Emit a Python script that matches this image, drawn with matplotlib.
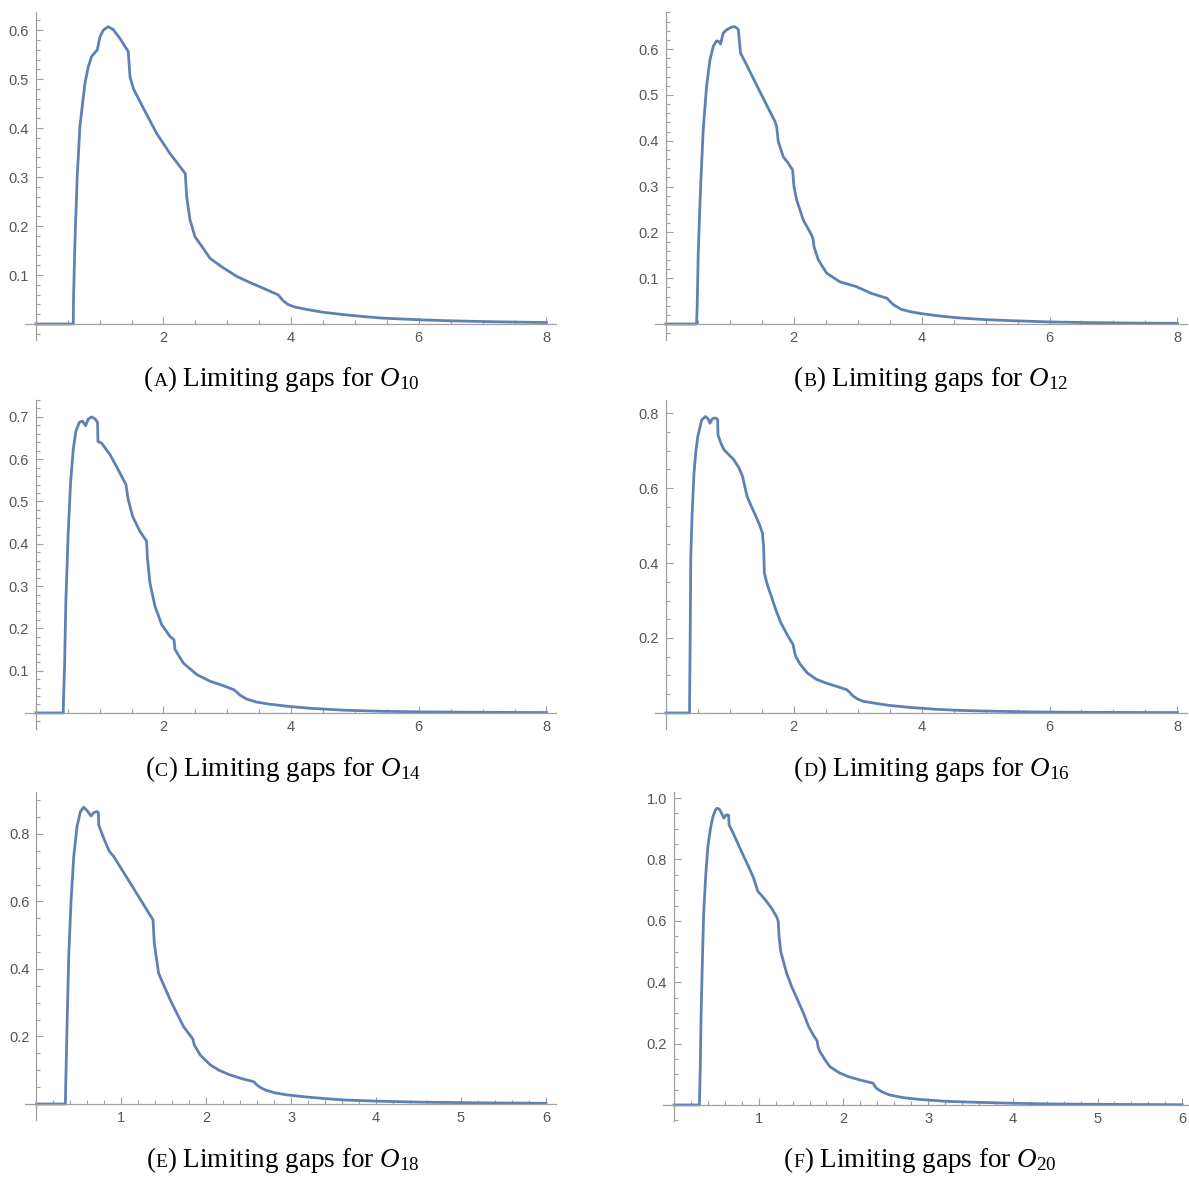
import numpy as np
import matplotlib.pyplot as plt
from matplotlib.ticker import MultipleLocator, FormatStrFormatter

plt.rcParams['mathtext.fontset'] = 'custom'
plt.rcParams['mathtext.rm'] = 'Liberation Serif'
plt.rcParams['mathtext.it'] = 'Liberation Serif:italic'

xa = [0, 0.586, 0.59, 0.612, 0.648, 0.69, 0.732, 0.769, 0.821, 0.873, 0.936, 0.962, 1.004, 1.056, 1.135,
      1.213, 1.318, 1.448, 1.475, 1.527, 1.631, 1.893, 2.102, 2.342, 2.363, 2.416, 2.494, 2.625, 2.73,
      2.91, 3.15, 3.35, 3.51, 3.65, 3.79, 3.82, 3.87, 3.95, 4.05, 4.23, 4.5, 4.83, 5.15, 5.43, 6.03,
      6.5, 7.2, 8.0]
ya = [0, 0, 0.05, 0.165, 0.301, 0.403, 0.45, 0.491, 0.525, 0.546, 0.556, 0.559, 0.586, 0.600, 0.607,
      0.601, 0.583, 0.556, 0.505, 0.481, 0.454, 0.389, 0.348, 0.307, 0.26, 0.212, 0.178, 0.154, 0.134,
      0.117, 0.097, 0.085, 0.076, 0.068, 0.060, 0.056, 0.048, 0.040, 0.035, 0.030, 0.024, 0.019, 0.015, 0.012, 0.0085,
      0.0065, 0.0045, 0.003]

xb = [0, 0.48, 0.49, 0.506, 0.543, 0.584, 0.636, 0.689, 0.741, 0.793, 0.835, 0.855, 0.897, 0.949, 1.028,
      1.08, 1.132, 1.168, 1.236, 1.471, 1.706, 1.732, 1.758, 1.836, 1.914, 1.982, 2.003, 2.045, 2.149,
      2.28, 2.306, 2.316, 2.384, 2.514, 2.723, 2.97, 3.21, 3.46, 3.5, 3.56, 3.68, 3.82, 3.98, 4.25,
      4.56, 5.0, 5.45, 6.0, 6.63, 7.3, 8.0]
yb = [0, 0, 0.04, 0.154, 0.300, 0.424, 0.518, 0.576, 0.606, 0.618, 0.616, 0.611, 0.635, 0.642, 0.648,
      0.649, 0.643, 0.591, 0.573, 0.507, 0.442, 0.431, 0.398, 0.365, 0.351, 0.336, 0.300, 0.271, 0.227,
      0.194, 0.183, 0.169, 0.140, 0.111, 0.092, 0.082, 0.067, 0.056, 0.050, 0.042, 0.032, 0.027, 0.023, 0.018,
      0.0135, 0.0095, 0.007, 0.0045, 0.003, 0.002, 0.0015]

xc = [0, 0.429, 0.435, 0.45, 0.471, 0.507, 0.544, 0.586, 0.627, 0.68, 0.732, 0.779, 0.821, 0.873, 0.931,
      0.967, 0.973, 1.03, 1.161, 1.291, 1.412, 1.448, 1.516, 1.631, 1.736, 1.746, 1.788, 1.867, 1.971,
      2.102, 2.165, 2.18, 2.311, 2.52, 2.729, 2.91, 3.1, 3.15, 3.2, 3.3, 3.45, 3.65, 3.93, 4.3, 4.83,
      5.4, 6.03, 7.0, 8.0]
yc = [0, 0, 0.04, 0.11, 0.268, 0.426, 0.544, 0.623, 0.666, 0.687, 0.690, 0.679, 0.695, 0.700, 0.695,
      0.687, 0.642, 0.638, 0.611, 0.575, 0.540, 0.504, 0.465, 0.429, 0.406, 0.370, 0.307, 0.252, 0.209,
      0.181, 0.173, 0.150, 0.118, 0.091, 0.075, 0.066, 0.055, 0.049, 0.042, 0.033, 0.026, 0.021, 0.016, 0.011, 0.0065,
      0.004, 0.0025, 0.0015, 0.001]

xd = [0, 0.37, 0.38, 0.39, 0.41, 0.44, 0.47, 0.50, 0.56, 0.62, 0.66, 0.69, 0.72, 0.75, 0.79, 0.81,
      0.815, 0.86, 0.91, 0.98, 1.06, 1.14, 1.20, 1.24, 1.27, 1.34, 1.41, 1.47, 1.51, 1.53, 1.54, 1.59,
      1.65, 1.72, 1.80, 1.90, 1.99, 2.01, 2.03, 2.10, 2.21, 2.35, 2.50, 2.65, 2.83, 2.88, 2.92, 3.0,
      3.09, 3.3, 3.5, 3.8, 4.2, 4.56, 5.0, 5.74, 6.5, 8.0]
yd = [0, 0, 0.20, 0.418, 0.53, 0.64, 0.70, 0.738, 0.782, 0.791, 0.785, 0.773, 0.783, 0.787, 0.786, 0.782,
      0.742, 0.72, 0.702, 0.69, 0.676, 0.655, 0.631, 0.60, 0.578, 0.55, 0.524, 0.50, 0.48, 0.44, 0.373, 0.34,
      0.311, 0.275, 0.24, 0.208, 0.182, 0.165, 0.151, 0.13, 0.107, 0.09, 0.08, 0.072, 0.062, 0.054, 0.046, 0.037,
      0.031, 0.025, 0.02, 0.015, 0.01, 0.007, 0.005, 0.0027, 0.0017, 0.001]

xe = [0, 0.341, 0.345, 0.361, 0.38, 0.408, 0.439, 0.478, 0.518, 0.557, 0.596, 0.643, 0.675, 0.714, 0.729,
      0.733, 0.792, 0.859, 0.91, 1.106, 1.263, 1.349, 1.373, 1.388, 1.439, 1.576, 1.733, 1.843, 1.859,
      1.929, 2.047, 2.15, 2.27, 2.42, 2.56, 2.59, 2.63, 2.70, 2.81, 2.95, 3.17, 3.4, 3.62, 4.0, 4.52,
      5.2, 6.0]
ye = [0, 0, 0.06, 0.239, 0.437, 0.604, 0.733, 0.822, 0.866, 0.879, 0.869, 0.853, 0.863, 0.866, 0.863,
      0.827, 0.787, 0.748, 0.733, 0.654, 0.59, 0.555, 0.545, 0.476, 0.387, 0.308, 0.229, 0.192, 0.175,
      0.145, 0.116, 0.10, 0.087, 0.075, 0.066, 0.058, 0.05, 0.041, 0.033, 0.027, 0.021, 0.016, 0.012, 0.0085, 0.0055,
      0.0035, 0.002]

xf = [0, 0.30, 0.31, 0.32, 0.335, 0.35, 0.375, 0.40, 0.43, 0.46, 0.49, 0.51, 0.53, 0.55, 0.58, 0.59,
      0.61, 0.63, 0.645, 0.65, 0.70, 0.77, 0.83, 0.88, 0.94, 0.99, 1.03, 1.08, 1.15, 1.21, 1.23, 1.24,
      1.26, 1.33, 1.39, 1.46, 1.53, 1.59, 1.65, 1.69, 1.70, 1.72, 1.78, 1.84, 1.95, 2.06, 2.2, 2.35,
      2.37, 2.39, 2.46, 2.54, 2.7, 2.9, 3.2, 3.56, 4.0, 4.44, 5.0, 6.0]
yf = [0, 0, 0.12, 0.299, 0.47, 0.625, 0.75, 0.842, 0.90, 0.94, 0.962, 0.967, 0.965, 0.957, 0.94, 0.935,
      0.944, 0.946, 0.944, 0.913, 0.885, 0.842, 0.806, 0.777, 0.739, 0.696, 0.684, 0.668, 0.642, 0.614, 0.60, 0.55,
      0.50, 0.429, 0.385, 0.342, 0.298, 0.255, 0.225, 0.209, 0.19, 0.175, 0.148, 0.125, 0.105, 0.092, 0.081, 0.071,
      0.062, 0.054, 0.042, 0.033, 0.024, 0.018, 0.012, 0.0087, 0.0055, 0.0033, 0.002, 0.0008]

letters = ['A', 'B', 'C', 'D', 'E', 'F']
orders = ['10', '12', '14', '16', '18', '20']

W, H = 1189, 1177
fig = plt.figure(figsize=(W / 100, H / 100), dpi=100)
renderer = fig.canvas.get_renderer()

# pixel boxes: left, right, top, bottom ; xlim, ylim top, tick steps, caption centre/baseline
panels = [
    (xa, ya, (25, 556, 12, 340), (-0.17, 8.15), 0.637, 2, 0.5, 0.1, 0.02, 282, 386),
    (xb, yb, (655, 1187, 12, 340), (-0.17, 8.15), 0.681, 2, 0.5, 0.1, 0.02, 931, 386),
    (xc, yc, (25, 556, 400, 729), (-0.17, 8.15), 0.74, 2, 0.5, 0.1, 0.02, 283, 776),
    (xd, yd, (655, 1187, 400, 729), (-0.17, 8.15), 0.835, 2, 0.5, 0.2, 0.05, 932, 776),
    (xe, ye, (25, 556, 792, 1120), (-0.135, 6.12), 0.924, 1, 0.2, 0.2, 0.05, 283, 1167),
    (xf, yf, (663, 1189, 792, 1121), (-0.13, 6.08), 1.02, 1, 0.2, 0.2, 0.05, 920, 1167),
]
axcol = '#a0a0a0'
S = 19.5


def caption(cx, by, letter, order):
    # "(A)" with a small-caps letter, built from three pieces
    parts = [('(', S), (letter, S * 0.72), (') Limiting gaps for $O_{%s}$' % order, S)]
    texts = [fig.text(0, 1 - by / H, s, fontsize=sz, family='Liberation Serif',
                      ha='left', va='baseline') for s, sz in parts]
    widths = [t.get_window_extent(renderer).width for t in texts]
    x = cx - sum(widths) / 2
    for t, w in zip(texts, widths):
        t.set_x(x / W)
        x += w


for i, (x, y, box, xl, top, xmaj, xmin, ymaj, ymin, cx, by) in enumerate(panels):
    l, r, t, b = box
    ax = fig.add_axes([l / W, 1 - b / H, (r - l) / W, (b - t) / H])
    ax.plot(x, y, color='#5e81b5', lw=2.0, solid_joinstyle='round')
    ax.set_xlim(xl)
    ax.set_ylim(-top * 16 / 312, top)
    for s in ['top', 'right']:
        ax.spines[s].set_visible(False)
    ax.spines['left'].set_position(('data', 0))
    ax.spines['bottom'].set_position(('data', 0))
    for s in ['left', 'bottom']:
        ax.spines[s].set_color(axcol)
        ax.spines[s].set_linewidth(0.9)
    ax.xaxis.set_major_locator(MultipleLocator(xmaj))
    ax.xaxis.set_minor_locator(MultipleLocator(xmin))
    ax.yaxis.set_major_locator(MultipleLocator(ymaj))
    ax.yaxis.set_minor_locator(MultipleLocator(ymin))
    ax.set_xticks([v for v in ax.get_xticks() if v > 0.01 and v <= xl[1]])
    ax.set_yticks([v for v in ax.get_yticks() if v > 0.001 and v <= top])
    ax.xaxis.set_major_formatter(FormatStrFormatter('%d'))
    ax.yaxis.set_major_formatter(FormatStrFormatter('%.1f'))
    ax.tick_params(which='both', direction='in', color=axcol, width=0.8,
                   labelcolor='#555555', labelsize=10.5)
    ax.tick_params(which='major', length=5, pad=5)
    ax.tick_params(which='minor', length=3)
    for lab in ax.get_xticklabels() + ax.get_yticklabels():
        lab.set_family('Liberation Sans')
    ax.patch.set_alpha(0)

    caption(cx, by, letters[i], orders[i])

fig.savefig('out.png', dpi=100)
